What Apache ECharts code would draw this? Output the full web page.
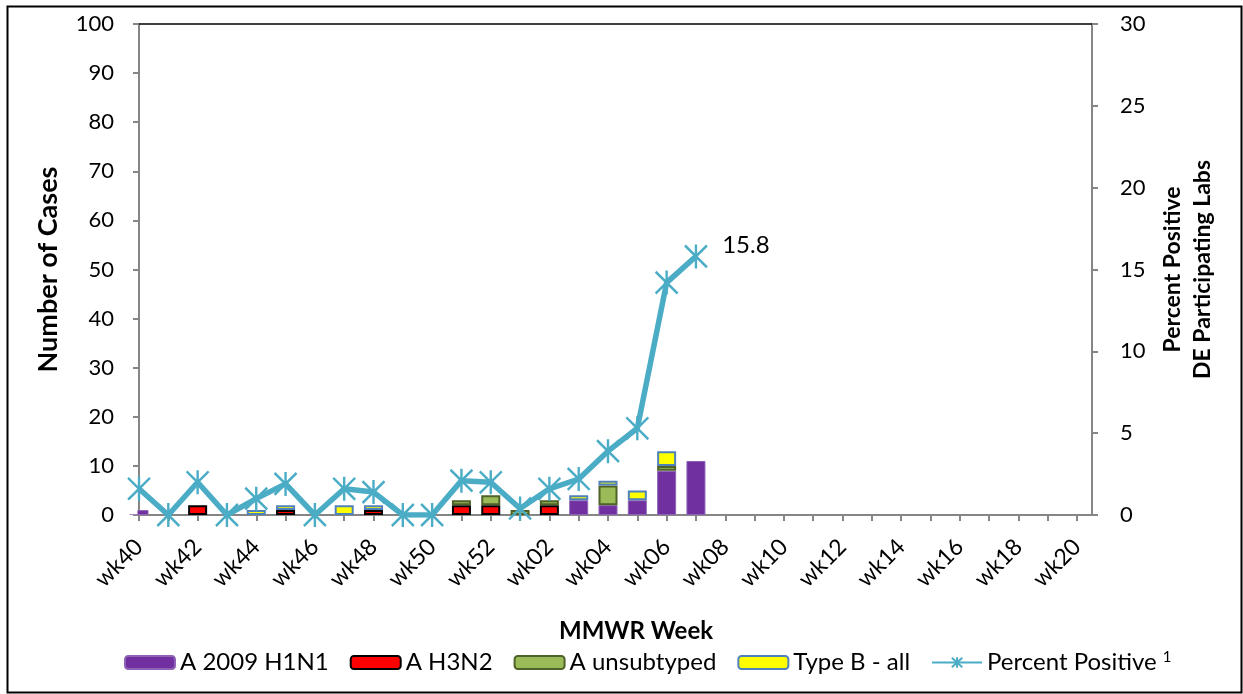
<!DOCTYPE html>
<html><head><meta charset="utf-8">
<script src="https://cdn.jsdelivr.net/npm/echarts@6/dist/echarts.min.js"></script>
<style>html,body{margin:0;padding:0;background:#fff}#c{width:1243px;height:694px}</style>
</head><body><div id="c"></div>
<script>
const weeks = ['wk40','wk41','wk42','wk43','wk44','wk45','wk46','wk47','wk48','wk49','wk50','wk51','wk52',
  'wk01','wk02','wk03','wk04','wk05','wk06','wk07','wk08','wk09','wk10','wk11','wk12','wk13','wk14',
  'wk15','wk16','wk17','wk18','wk19','wk20'];
const h1n1   = [1,0,0,0,0,0,0,0,0,0,0,0,0, 0,0,3,2,3,9,11];
const h3n2   = [0,0,2,0,0,1,0,0,1,0,0,2,2, 0,2,0,0,0,0,0];
const unsub  = [0,0,0,0,0,0,0,0,0,0,0,1,2, 1,1,0,4,0,1,0];
const typeB  = [0,0,0,0,1,1,0,2,1,0,0,0,0, 0,0,1,1,2,3,0];
const pctPos = [1.6,0,2.0,0,1.0,1.9,0,1.6,1.4,0,0,2.1,2.0, 0.4,1.6,2.2,3.9,5.3,14.2,15.8];

const FONT = 'Lato';
const lastIdx = pctPos.length - 1;
const gray = '#868686';
const barData = arr => arr.map(v => (v ? v : '-'));

const chart = echarts.init(document.getElementById('c'));
const barBase = (name, data, color, border, bw) => ({
  name, type: 'bar', stack: 'cases', data: barData(data), barWidth: 19,
  itemStyle: { color, borderColor: border, borderWidth: bw }, clip: true
});
chart.setOption({
  animation: false,
  textStyle: { fontFamily: FONT },
  graphic: [
    { type: 'rect', left: 5, top: 4, shape: { width: 1234, height: 686 },
      style: { fill: 'none', stroke: '#000', lineWidth: 2 }, z: 100 },
    // mask the part of the first bar that spills left of the value axis
    { type: 'rect', left: 118, top: 500, shape: { width: 19.5, height: 14.2 },
      style: { fill: '#fff' }, z: 50 }
  ],
  grid: [
    { left: 139, right: 166, top: 24, bottom: 179 },
    { left: 139, right: 151, top: 24, bottom: 179 }
  ],
  legend: {
    left: 119, top: 645, itemWidth: 50, itemHeight: 13, itemGap: 21,
    textStyle: { fontSize: 24, color: '#000', fontFamily: FONT,
      rich: { sup: { fontSize: 15, verticalAlign: 'top', padding: [0,0,10,0], color: '#000', fontFamily: FONT } } },
    formatter: n => n === 'Percent Positive' ? 'Percent Positive {sup|1}' : n,
    data: ['A 2009 H1N1', 'A H3N2', 'A unsubtyped', 'Type B - all', 'Percent Positive']
  },
  xAxis: [{
    type: 'category', data: weeks, boundaryGap: false, gridIndex: 0,
    axisLine: { onZero: false, lineStyle: { color: gray, width: 2 } },
    axisTick: { interval: 0, length: 6, lineStyle: { color: gray, width: 2 } },
    axisLabel: { interval: 1, rotate: 45, fontSize: 23, color: '#000', fontFamily: FONT, margin: 28 },
    name: 'MMWR Week', nameLocation: 'middle', nameGap: 104,
    nameTextStyle: { fontSize: 24, fontWeight: 'bold', color: '#000', fontFamily: FONT, padding: [0,0,0,56] }
  }, {
    type: 'value', gridIndex: 1, min: 0, max: 1, position: 'bottom', splitLine: { show: false },
    axisLine: { show: true, onZero: false, lineStyle: { color: gray, width: 2 } },
    axisTick: { show: false }, axisLabel: { show: false }
  }, {
    type: 'value', gridIndex: 1, min: 0, max: 1, position: 'top', splitLine: { show: false },
    axisLine: { show: true, onZero: false, lineStyle: { color: '#000', width: 1.5 } },
    axisTick: { show: false }, axisLabel: { show: false }
  }],
  yAxis: [{
    type: 'value', gridIndex: 0, min: 0, max: 100, interval: 10, splitLine: { show: false },
    axisLine: { show: true, onZero: false, lineStyle: { color: gray, width: 2 } },
    axisTick: { show: true, length: 6, lineStyle: { color: gray, width: 2 } },
    axisLabel: { fontSize: 22, color: '#000', fontFamily: FONT, margin: 25 },
    name: 'Number of Cases', nameLocation: 'middle', nameRotate: 90, nameGap: 77,
    nameTextStyle: { fontSize: 27, fontWeight: 'bold', color: '#000', fontFamily: FONT }
  }, {
    type: 'value', gridIndex: 0, min: 0, max: 30, interval: 5, position: 'right', offset: 15,
    splitLine: { show: false },
    axisLine: { show: true, onZero: false, lineStyle: { color: gray, width: 2 } },
    axisTick: { show: true, length: 6, lineStyle: { color: gray, width: 2 } },
    axisLabel: { fontSize: 22, color: '#000', fontFamily: FONT, margin: 28 },
    name: 'Percent Positive\nDE Participating Labs', nameLocation: 'middle', nameRotate: 90, nameGap: 66,
    nameTextStyle: { fontSize: 23, fontWeight: 'bold', color: '#000', fontFamily: FONT, lineHeight: 30 }
  }, {
    type: 'value', gridIndex: 1, min: 0, max: 1, show: false
  }],
  series: [
    barBase('A 2009 H1N1', h1n1, '#7030A0', '#8E63B5', 1),
    barBase('A H3N2', h3n2, '#FF0000', '#000000', 2),
    barBase('A unsubtyped', unsub, '#9BBB59', '#4F6228', 2),
    barBase('Type B - all', typeB, '#FFFF00', '#4F81BD', 2),
    {
      name: 'Percent Positive', type: 'line', xAxisIndex: 0, yAxisIndex: 1, data: pctPos,
      showAllSymbol: true,
      symbol: 'path://M0,0L20,20M20,0L0,20M10,-1L10,21', symbolSize: [22, 24],
      lineStyle: { color: '#4BACC6', width: 5.5 },
      itemStyle: { color: '#4BACC6', borderColor: '#4BACC6', borderWidth: 2.5 },
      label: { show: true, position: 'right', distance: 14, offset: [0, -11],
        fontSize: 24, color: '#000', fontFamily: FONT,
        formatter: p => p.dataIndex === lastIdx ? String(p.value) : '' },
      z: 5
    }
  ]
});
</script></body></html>
